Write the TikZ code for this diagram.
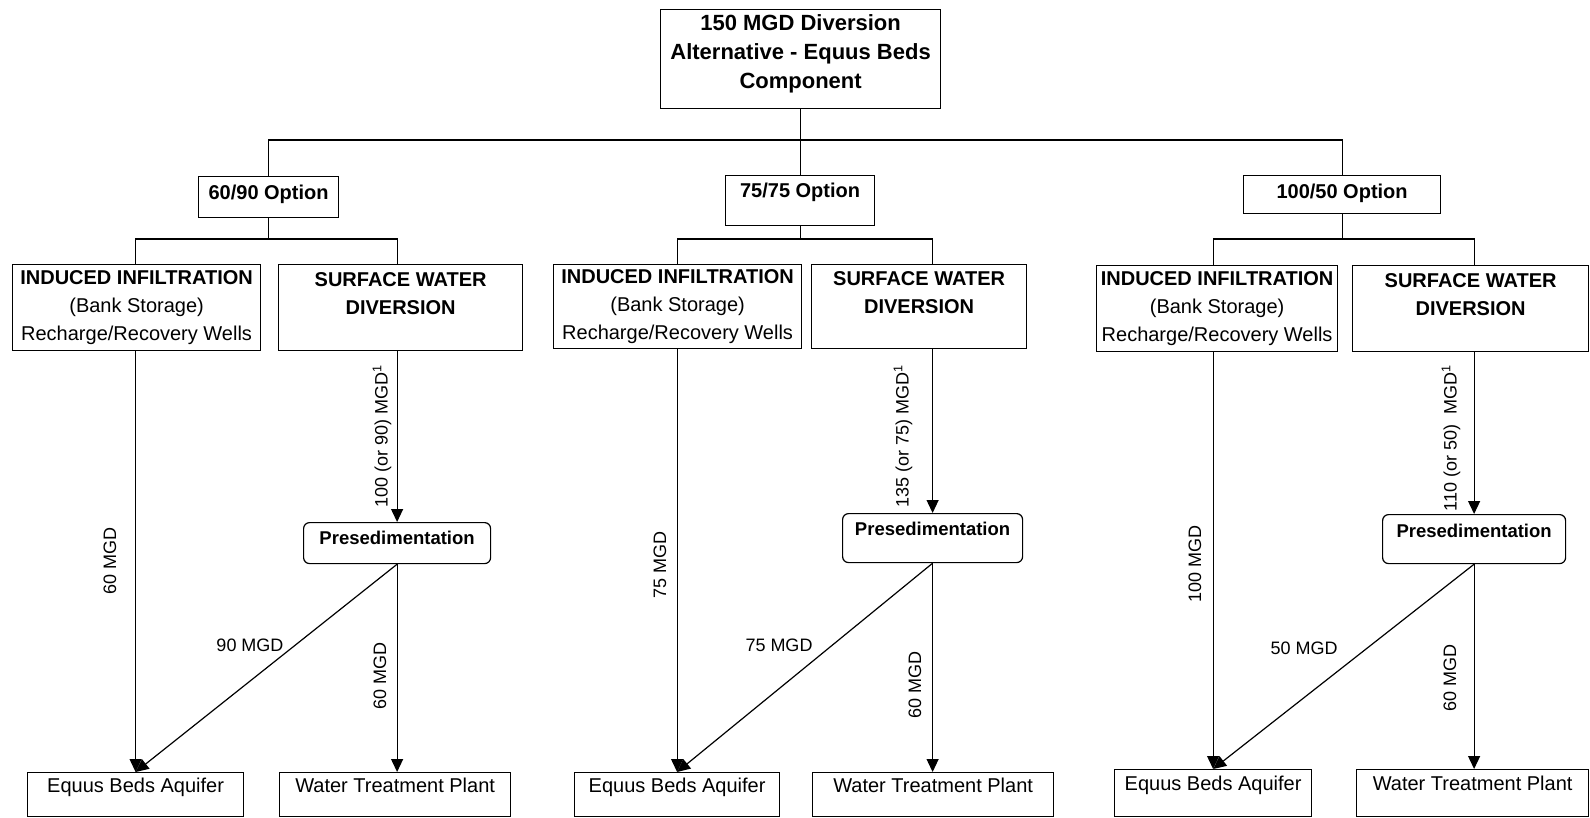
\documentclass[tikz,border=0pt]{standalone}
\usepackage{fontspec}
\setmainfont{Liberation Sans}
\usetikzlibrary{arrows.meta}

\tikzset{
  box/.style={draw, rectangle, inner sep=0pt, line width=1.2pt, anchor=north west,
    font=\fontsize{20}{28}\selectfont},
  multibox/.style={box, align=center},
  hd/.style={font=\fontsize{20}{28}\selectfont\bfseries},
  presbox/.style={box, rounded corners=6pt, font=\fontsize{18.5}{24}\selectfont\bfseries},
  link/.style={line width=1.2pt},
  flow/.style={link, -{Triangle[length=13pt,width=12pt]}},
  qty/.style={font=\fontsize{18}{22}\selectfont, inner sep=0pt},
  vqty/.style={qty, rotate=90},
}

\begin{document}
\begin{tikzpicture}[x=1pt, y=-1pt]
      \useasboundingbox (0,0) rectangle (1590,817);

      \node[box, font=\fontsize{22}{29}\selectfont\bfseries, align=center, minimum width=280pt, minimum height=99pt] (div) at (660,9)
        {150 MGD Diversion\\Alternative - Equus Beds\\Component\rule[-15pt]{0pt}{0pt}};

      \node[box, hd, minimum width=140pt, text height=23pt, text depth=18pt] (optA) at (198,176) {60/90 Option};
      \node[box, hd, minimum width=149pt, text height=22pt, text depth=28pt] (optB) at (725,175) {75/75 Option};
      \node[box, hd, minimum width=197pt, text height=23pt, text depth=15pt] (optC) at (1243,175) {100/50 Option};

      \coordinate (busT) at (div.south |- 0,140);
      \draw[link] (div.south) -- (div.south |- optB.north);
      \draw[link] (optA.north) |- (busT) -| (optC.north);

      % 60/90
      \node[multibox, minimum width=248pt, minimum height=86pt] (indA) at (12,264)
        {\textbf{INDUCED INFILTRATION}\\(Bank Storage)\\Recharge/Recovery Wells};
      \node[multibox, hd, minimum width=244pt, minimum height=86pt] (surA) at (278,264)
        {SURFACE WATER\\DIVERSION\\\mbox{}};
      \node[presbox, minimum width=187pt, text height=21.6pt, text depth=19.4pt] (preA) at (303,522) {Presedimentation};
      \node[box, minimum width=216pt, text height=20pt, text depth=24pt] (aqA) at (27,772) {Equus Beds Aquifer};
      \node[box, minimum width=231pt, text height=20pt, text depth=24pt] (wtpA) at (279,772) {Water Treatment Plant};

      \coordinate (brA) at (optA.south |- 0,239);
      \draw[link] (optA.south) -- (brA);
      \draw[link] (aqA.north |- indA.north) |- (brA) -| (preA.north |- surA.north);
      \draw[flow] (aqA.north |- indA.south) -- (aqA.north);
      \draw[flow] (preA.north |- surA.south) -- (preA.north);
      \draw[flow] (preA.south) -- (aqA.north);
      \draw[flow] (preA.south) -- (preA.south |- wtpA.north);

      \node[vqty] (qA1) at (110,561) {60 MGD};
      \node[vqty] (qA2) at (382,436) {100 (or 90) MGD\textsuperscript{1}};
      \node[qty] (qA3) at (250,645) {90 MGD};
      \node[vqty] (qA4) at (380,676) {60 MGD};

      % 75/75
      \node[multibox, minimum width=248pt, minimum height=84pt] (indB) at (553,264)
        {\textbf{INDUCED INFILTRATION}\\(Bank Storage)\\Recharge/Recovery Wells};
      \node[multibox, hd, minimum width=215pt, minimum height=84pt] (surB) at (811,264)
        {SURFACE WATER\\DIVERSION\\\mbox{}};
      \node[presbox, minimum width=180pt, text height=21.6pt, text depth=27.4pt] (preB) at (842,513) {Presedimentation};
      \node[box, minimum width=205pt, text height=20pt, text depth=24pt] (aqB) at (574,772) {Equus Beds Aquifer};
      \node[box, minimum width=241pt, text height=20pt, text depth=24pt] (wtpB) at (812,772) {Water Treatment Plant};

      \coordinate (brB) at (optB.south |- 0,239);
      \draw[link] (optB.south) -- (brB);
      \draw[link] (aqB.north |- indB.north) |- (brB) -| (preB.north |- surB.north);
      \draw[flow] (aqB.north |- indB.south) -- (aqB.north);
      \draw[flow] (preB.north |- surB.south) -- (preB.north);
      \draw[flow] (preB.south) -- (aqB.north);
      \draw[flow] (preB.south) -- (preB.south |- wtpB.north);

      \node[vqty] (qB1) at (660,565) {75 MGD};
      \node[vqty] (qB2) at (903,436) {135 (or 75) MGD\textsuperscript{1}};
      \node[qty] (qB3) at (779,645) {75 MGD};
      \node[vqty] (qB4) at (915,685) {60 MGD};

      % 100/50
      \node[multibox, minimum width=241pt, minimum height=86pt] (indC) at (1096,265)
        {\textbf{INDUCED INFILTRATION}\\(Bank Storage)\\Recharge/Recovery Wells};
      \node[multibox, hd, minimum width=236pt, minimum height=86pt] (surC) at (1352,265)
        {SURFACE WATER\\DIVERSION\\\mbox{}};
      \node[presbox, minimum width=183pt, text height=22.6pt, text depth=26.4pt] (preC) at (1382,514) {Presedimentation};
      \node[box, minimum width=197pt, text height=21pt, text depth=26pt] (aqC) at (1114,769) {Equus Beds Aquifer};
      \node[box, minimum width=232pt, text height=21pt, text depth=26pt] (wtpC) at (1356,769) {Water Treatment Plant};

      \coordinate (brC) at (optC.south |- 0,239);
      \draw[link] (optC.south) -- (brC);
      \draw[link] (aqC.north |- indC.north) |- (brC) -| (preC.north |- surC.north);
      \draw[flow] (aqC.north |- indC.south) -- (aqC.north);
      \draw[flow] (preC.north |- surC.south) -- (preC.north);
      \draw[flow] (preC.south) -- (aqC.north);
      \draw[flow] (preC.south) -- (preC.south |- wtpC.north);

      \node[vqty] (qC1) at (1195,564) {100 MGD};
      \node[vqty] (qC2) at (1451,438) {110 (or 50)~ MGD\textsuperscript{1}};
      \node[qty] (qC3) at (1304,648) {50 MGD};
      \node[vqty] (qC4) at (1450,678) {60 MGD};
    \end{tikzpicture}
\end{document}
